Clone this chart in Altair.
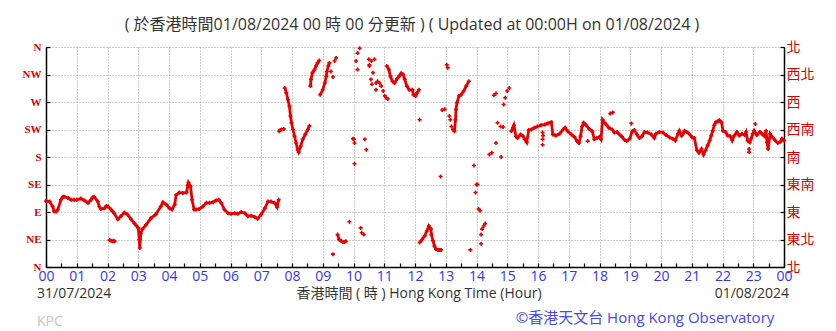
import json
import altair as alt
import pandas as pd

# ---- data: minutes after 00:00 (31/07/2024) and wind direction in degrees ----
SEG_A_MIN = [0, 7, 13, 16, 20, 23, 29, 33, 36, 43, 49, 55, 60, 68, 75, 82, 88, 91, 94, 101, 104, 107, 114, 118, 121,
             127, 130, 133, 140, 146, 153, 159, 166, 172, 176, 180, 182, 183, 185, 188, 195, 205, 214, 224, 228,
             235, 241, 246, 251, 254, 260, 267, 274, 277, 278, 282, 285, 289, 293, 299, 306, 313, 319, 326,
             332, 337, 342, 348, 355, 361, 368, 374, 381, 388, 394, 400, 407, 413, 420, 427, 433, 439, 446,
             451, 454]
SEG_A_DEG = [108, 107, 99, 91, 91, 94, 110, 115, 115, 113, 110, 110, 110, 112, 109, 105, 110, 114, 115, 107, 99, 95, 96, 100, 99,
             94, 91, 88, 78, 83, 89, 86, 78, 72, 68, 64, 45, 31, 55, 62, 69, 80, 86, 99, 106,
             102, 96, 94, 102, 118, 122, 121, 122, 134, 138, 132, 110, 94, 94, 95, 99, 105, 105, 106,
             109, 110, 105, 94, 88, 87, 88, 87, 90, 88, 83, 84, 82, 79, 86, 96, 107, 107, 105,
             98, 110]

SEG_B_MIN = [466, 469, 472, 475, 477, 479, 482, 485, 488, 491, 493, 497, 501, 506, 511, 514]
SEG_B_DEG = [293, 285, 274, 263, 247, 236, 225, 214, 203, 192, 188, 198, 209, 217, 225, 231]

SEG_C_MIN = [516, 517, 520, 524, 527, 530, 533]
SEG_C_DEG = [296, 307, 318, 323, 329, 334, 338]

SEG_D_MIN = [535, 540, 544, 547, 548, 551, 553]
SEG_D_DEG = [282, 290, 301, 312, 320, 329, 334]

SEG_E_MIN = [569, 572, 576, 579, 582, 585]
SEG_E_DEG = [53, 45, 43, 41, 41, 42]

SEG_F_MIN = [665, 669, 672, 676, 680, 685, 689, 693, 697, 700, 704, 709, 715, 717, 721, 724, 728]
SEG_F_DEG = [329, 323, 312, 304, 301, 308, 312, 317, 315, 307, 296, 290, 290, 282, 280, 285, 290]

SEG_G_MIN = [729, 734, 739, 743, 747, 751, 752, 755, 758, 761, 765, 768, 771]
SEG_G_DEG = [40, 45, 51, 59, 67, 62, 53, 43, 34, 29, 28, 28, 28]

SEG_H_MIN = [797, 799, 800, 802, 806, 810, 815, 820, 825]
SEG_H_DEG = [222, 241, 258, 269, 280, 282, 288, 296, 304]

SEG_I_MIN = [908, 911, 913, 917, 920, 926, 931, 934, 938, 942, 947, 953, 959, 966, 973, 979, 986, 989, 995,
             1002, 1009, 1013, 1018, 1025, 1031, 1036, 1040, 1043, 1046, 1049, 1054, 1060, 1066, 1070, 1075,
             1080, 1083, 1086, 1090, 1094, 1098, 1105, 1109, 1114, 1119, 1124, 1129, 1133, 1139, 1144, 1148,
             1153, 1158, 1163, 1168, 1174, 1181, 1187, 1190, 1197, 1204, 1210, 1217, 1223, 1228, 1233, 1236,
             1240, 1243, 1246, 1250, 1255, 1261, 1265, 1270, 1274, 1279, 1283, 1287, 1291, 1295, 1298, 1301,
             1304, 1307, 1311, 1314, 1318, 1321, 1326, 1330, 1335, 1339, 1343, 1348, 1353, 1358, 1363, 1366,
             1369, 1373, 1376, 1379, 1382, 1387, 1393, 1397, 1402, 1405, 1407, 1409, 1413, 1418, 1423, 1428,
             1433, 1436, 1440]
SEG_I_DEG = [222, 228, 232, 214, 211, 217, 214, 209, 204, 224, 225, 228, 230, 232, 233, 235, 237, 217, 215,
             218, 225, 228, 222, 217, 213, 206, 203, 214, 230, 236, 232, 226, 222, 209, 211,
             213, 209, 241, 236, 232, 228, 225, 220, 221, 217, 213, 208, 206, 210, 222, 224,
             217, 211, 214, 221, 220, 217, 211, 218, 221, 220, 216, 212, 210, 207, 218, 223,
             215, 218, 223, 221, 218, 212, 211, 191, 187, 193, 184, 191, 199, 207, 215, 223,
             232, 237, 238, 240, 237, 223, 221, 215, 214, 207, 215, 221, 215, 218, 216, 221,
             207, 204, 210, 218, 223, 216, 221, 218, 214, 223, 204, 193, 218, 212, 207, 203,
             205, 210, 207]

SCATTER_MIN = [124, 127, 130, 132, 134, 455, 457, 460, 464,
               556, 560, 563, 566, 560, 592,
               599, 601, 602, 602, 605, 608, 612, 608, 614, 616, 620, 622, 625,
               630, 631, 634, 636, 631, 635, 641, 638, 644, 644, 647, 651, 654, 658, 661, 664, 667,
               729, 770, 773, 778, 782, 784, 787, 789, 791, 794,
               828, 835, 838, 840, 842, 844, 847, 849, 849, 851, 854, 857, 865, 870, 874, 878, 878,
               881, 887, 892, 888, 893, 896, 900, 904,
               969, 970, 969, 969, 1057, 1101, 1106, 1142, 1372, 1372, 1384]
SCATTER_DEG = [44, 43, 42, 43, 42, 222, 224, 225, 226,
               320, 311, 337, 342, 21, 74,
               210, 209, 203, 169, 337, 350, 358, 323, 64, 56, 53, 209, 192,
               340, 329, 307, 299, 331, 337, 340, 318, 301, 290, 304, 301, 296, 288, 280, 277, 275,
               241, 148, 257, 258, 331, 326, 247, 241, 230, 225,
               28, 166, 122, 135, 135, 95, 92, 38, 53, 62, 67, 71, 184, 187, 281, 284, 203,
               236, 230, 229, 180, 266, 277, 288, 293,
               220, 215, 209, 200, 206, 251, 253, 235, 188, 193, 234]

HOUR_LABELS = ["00", "01", "02", "03", "04", "05", "06", "07", "08", "09", "10", "11",
               "12", "13", "14", "15", "16", "17", "18", "19", "20", "21", "22", "23", "00"]
DIR_LABELS_EN = ["N", "NE", "E", "SE", "S", "SW", "W", "NW", "N"]
DIR_LABELS_ZH = ["北", "東北", "東", "東南", "南", "西南", "西", "西北", "北"]

TITLE = "( 於香港時間01/08/2024 00 時 00 分更新 ) ( Updated at 00:00H on 01/08/2024 )"
X_TITLE = "香港時間 ( 時 ) Hong Kong Time (Hour)"
DATE_LEFT = "31/07/2024"
DATE_RIGHT = "01/08/2024"
CREDIT = "©香港天文台 Hong Kong Observatory"
STATION = "KPC"

SEGMENTS = [("A", SEG_A_MIN, SEG_A_DEG), ("B", SEG_B_MIN, SEG_B_DEG), ("C", SEG_C_MIN, SEG_C_DEG),
            ("D", SEG_D_MIN, SEG_D_DEG), ("E", SEG_E_MIN, SEG_E_DEG), ("F", SEG_F_MIN, SEG_F_DEG),
            ("G", SEG_G_MIN, SEG_G_DEG), ("H", SEG_H_MIN, SEG_H_DEG), ("I", SEG_I_MIN, SEG_I_DEG)]

line_rows = []
for name, mins, degs in SEGMENTS:
    for m, d in zip(mins, degs):
        line_rows.append({"t": m, "d": d, "seg": name})
line_df = pd.DataFrame(line_rows)
point_df = pd.concat([line_df[["t", "d"]],
                      pd.DataFrame({"t": SCATTER_MIN, "d": SCATTER_DEG})], ignore_index=True)

RED = "#e80000"
LABEL_RED = "#dd0000"
BLUE = "#3333ff"
GRID = "#9a9a9a"

x_enc = alt.X(
    "t:Q",
    scale=alt.Scale(domain=[0, 1440], nice=False, zero=False),
    axis=alt.Axis(
        values=list(range(0, 1441, 30)),
        labelExpr="datum.value % 60 == 0 ? " + json.dumps(HOUR_LABELS) + "[round(datum.value/60)] : ''",
        grid=True,
        gridDash=[1, 2],
        gridColor=GRID,
        gridOpacity={"condition": {"test": "datum.value % 60 != 0", "value": 0}, "value": 1},
        domainColor="black",
        domainWidth=1.5,
        tickColor="black",
        tickWidth=1.2,
        tickSize={"expr": "-4"},
        labelColor=BLUE,
        labelFont="Open Sans",
        labelFontSize=14,
        labelPadding=6,
        labelFlush=False,
        title=None,
    ),
)

y_scale = alt.Scale(domain=[0, 360], nice=False, zero=False)

y_left = alt.Y(
    "d:Q",
    scale=y_scale,
    axis=alt.Axis(
        orient="left",
        values=list(range(0, 361, 45)),
        labelExpr=json.dumps(DIR_LABELS_EN) + "[round(datum.value/45)]",
        grid=True,
        gridDash=[1, 2],
        gridColor=GRID,
        domainColor="black",
        domainWidth=1.5,
        tickColor="black",
        tickWidth=1.2,
        tickSize={"expr": "-4"},
        labelColor=LABEL_RED,
        labelFont="Liberation Serif",
        labelFontSize=11,
        labelFontWeight="bold",
        labelPadding=9,
        title=None,
    ),
)

y_right = alt.Y(
    "d:Q",
    scale=y_scale,
    axis=alt.Axis(
        orient="right",
        values=list(range(0, 361, 45)),
        labelExpr=json.dumps(DIR_LABELS_ZH) + "[round(datum.value/45)]",
        grid=False,
        domainColor="black",
        domainWidth=1.5,
        tickColor="black",
        tickWidth=1.2,
        tickSize={"expr": "-4"},
        labelColor=LABEL_RED,
        labelFont="Noto Sans CJK TC",
        labelFontSize=14,
        labelPadding=6,
        title=None,
    ),
)

lines = alt.Chart(line_df).mark_line(color=RED, strokeWidth=2.8, interpolate="linear").encode(
    x=x_enc, y=y_left, detail="seg:N", order="t:Q"
)
points = alt.Chart(point_df).mark_point(shape="cross", filled=True, size=16, color=RED, opacity=1).encode(
    x=x_enc, y=y_right
)


def label(text, x, y, size, color, align="center", font="Open Sans, Noto Sans CJK TC"):
    return alt.Chart(pd.DataFrame({"txt": [text]})).mark_text(
        align=align, baseline="middle", font=font, fontSize=size, color=color
    ).encode(text="txt:N", x=alt.value(x), y=alt.value(y))


texts = [
    label(TITLE, 366, -22, 16, "#333333"),
    label(DATE_LEFT, -9, 247, 14, "#333333", align="left"),
    label(X_TITLE, 373, 247, 14, "#333333"),
    label(DATE_RIGHT, 743, 247, 14, "#333333", align="right"),
    label(STATION, -9, 275, 14, "#c4c4c4", align="left"),
    label(CREDIT, 599, 271, 15, "#4646ff"),
]

chart = alt.layer(lines, points, *texts).resolve_scale(y="independent").properties(
    width=738,
    height=220,
    padding={"left": 46, "top": 47, "right": 52, "bottom": 64},
    autosize=alt.AutoSizeParams(type="none"),
    background="white",
).configure_view(stroke=None)

chart.save("out.html", embed_options={"renderer": "svg", "actions": False})
